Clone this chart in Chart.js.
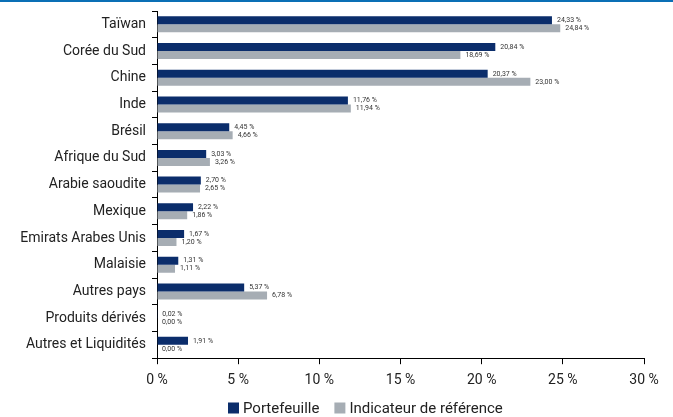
<!DOCTYPE html>
<html>
<head>
<meta charset="utf-8">
<script src="https://cdn.jsdelivr.net/npm/chart.js@4"></script>
<style>
  body { margin: 0; background: #fff; }
  #wrap { width: 673px; height: 415px; border-top: 2px solid #0a6fb5; position: relative; }
</style>
</head>
<body>
<div id="wrap"><canvas id="bar-chart"></canvas></div>
<script>
const categories = ['Taïwan', 'Corée du Sud', 'Chine', 'Inde', 'Brésil', 'Afrique du Sud',
  'Arabie saoudite', 'Mexique', 'Emirats Arabes Unis', 'Malaisie', 'Autres pays',
  'Produits dérivés', 'Autres et Liquidités'];
const portefeuille = [24.33, 20.84, 20.37, 11.76, 4.45, 3.03, 2.70, 2.22, 1.67, 1.31, 5.37, 0.02, 1.91];
const indicateur = [24.84, 18.69, 23.00, 11.94, 4.66, 3.26, 2.65, 1.86, 1.20, 1.11, 6.78, 0.00, 0.00];
const xTicks = [0, 5, 10, 15, 20, 25, 30];

const colors = ['#0b2d6b', '#a6adb4'];
const fmt = (v) => v.toFixed(2).replace('.', ',') + ' %';

// draws the value next to each bar, and the legend under the axis
const extras = {
  id: 'extras',
  afterDatasetsDraw(chart) {
    const ctx = chart.ctx;
    ctx.save();
    ctx.font = '7px Roboto';
    ctx.fillStyle = '#333';
    ctx.textBaseline = 'middle';
    ctx.textAlign = 'left';
    chart.data.datasets.forEach((ds, i) => {
      chart.getDatasetMeta(i).data.forEach((bar, j) => {
        ctx.fillText(fmt(ds.data[j]), bar.x + 5, bar.y);
      });
    });

    // legend
    ctx.font = '15px Roboto';
    const box = 11, gap = 4, space = 15;
    let x = 228;
    const y = chart.height - 9;
    chart.data.datasets.forEach((ds, i) => {
      ctx.fillStyle = colors[i];
      ctx.fillRect(x, y - box / 2, box, box);
      ctx.fillStyle = '#222';
      ctx.fillText(ds.label, x + box + gap, y + 1);
      x += box + gap + ctx.measureText(ds.label).width + space;
    });
    ctx.restore();
  },
};

Chart.defaults.font.family = 'Roboto';
Chart.defaults.color = '#222';

new Chart(document.getElementById('bar-chart'), {
  type: 'bar',
  data: {
    labels: categories,
    datasets: [
      { label: 'Portefeuille', data: portefeuille, backgroundColor: colors[0] },
      { label: 'Indicateur de référence', data: indicateur, backgroundColor: colors[1] },
    ],
  },
  options: {
    indexAxis: 'y',
    responsive: true,
    maintainAspectRatio: false,
    animation: false,
    layout: { padding: { top: 9, right: 29, bottom: 20, left: 0 } },
    datasets: { bar: { categoryPercentage: 0.6, barPercentage: 1 } },
    scales: {
      x: {
        min: 0,
        max: 30,
        afterBuildTicks: (s) => { s.ticks = xTicks.map((v) => ({ value: v })); },
        ticks: { font: { size: 14 }, padding: 8, callback: (v) => v + ' %' },
        grid: { drawOnChartArea: false, tickLength: 6, color: '#000' },
        border: { color: '#000' },
      },
      y: {
        afterFit: (s) => { s.width = 157; s.paddingTop = 0; s.paddingBottom = 0; },
        ticks: { font: { size: 14 }, padding: 6 },
        grid: { drawOnChartArea: false, tickLength: 5, color: '#000' },
        border: { color: '#000' },
      },
    },
    plugins: {
      tooltip: { enabled: false },
      legend: { display: false },
    },
  },
  plugins: [extras],
});
</script>
</body>
</html>
